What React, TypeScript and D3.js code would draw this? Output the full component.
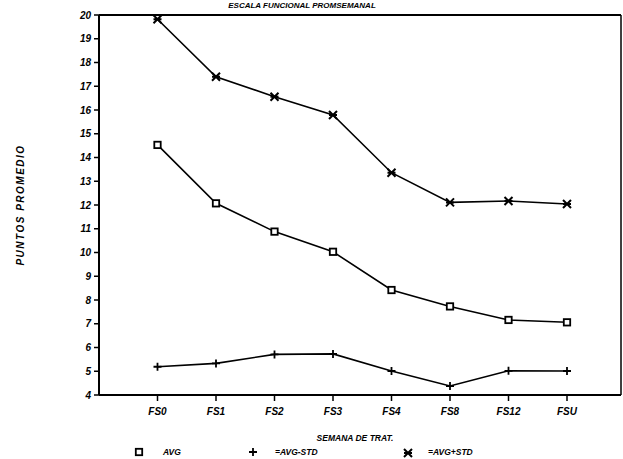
import React from "react";
import * as d3 from "d3";

// Weeks of treatment
const weeks = ["FS0", "FS1", "FS2", "FS3", "FS4", "FS8", "FS12", "FSU"];

// Average score and +/- one standard deviation
const avg = [14.53, 12.07, 10.88, 10.03, 8.42, 7.73, 7.16, 7.06];
const avgMinusStd = [5.19, 5.33, 5.71, 5.73, 5.01, 4.38, 5.02, 5.01];
const avgPlusStd = [19.82, 17.4, 16.56, 15.79, 13.36, 12.11, 12.17, 12.04];

const yTicks = [4, 5, 6, 7, 8, 9, 10, 11, 12, 13, 14, 15, 16, 17, 18, 19, 20];

const W = 623;
const H = 459;
const left = 99;
const right = 621;
const top = 15;
const bottom = 395;

const font = "'Liberation Sans', Arial, sans-serif";

export default function App() {
  const x = d3.scaleLinear().domain([-1, 8]).range([left, left + 9 * 58.5]);
  const y = d3.scaleLinear().domain([4, 20]).range([bottom, top]);

  const line = d3
    .line<number>()
    .x((_, i) => x(i))
    .y((d) => y(d));

  const square = (cx: number, cy: number, k: string) => (
    <rect key={k} x={cx - 3.2} y={cy - 3.2} width={6.4} height={6.4} fill="white" stroke="black" strokeWidth={1.8} />
  );
  const plus = (cx: number, cy: number, k: string) => (
    <path key={k} d={`M${cx - 4},${cy}H${cx + 4}M${cx},${cy - 4}V${cy + 4}`} stroke="black" strokeWidth={1.8} />
  );
  const cross = (cx: number, cy: number, k: string) => (
    <path
      key={k}
      d={`M${cx - 4},${cy - 4}L${cx + 4},${cy + 4}M${cx + 4},${cy - 4}L${cx - 4},${cy + 4}M${cx - 4},${cy}H${cx + 4}`}
      stroke="black"
      strokeWidth={2}
    />
  );

  const series = [
    { values: avg, marker: square },
    { values: avgMinusStd, marker: plus },
    { values: avgPlusStd, marker: cross },
  ];

  const textStyle = { fontFamily: font, fontWeight: 700, fontStyle: "italic" as const };

  return (
    <svg
      width={W}
      height={H}
      style={{ position: "absolute", left: 0, top: 0, background: "white" }}
    >
      {/* title */}
      <text x={302} y={8} textAnchor="middle" fontSize={8} {...textStyle}>
        ESCALA FUNCIONAL PROMSEMANAL
      </text>

      {/* frame */}
      <line x1={left} x2={right} y1={top} y2={top} stroke="black" strokeWidth={2} />
      <line x1={right} x2={right} y1={top} y2={bottom} stroke="black" strokeWidth={1.5} />
      <line x1={left} x2={left} y1={top} y2={bottom} stroke="black" strokeWidth={2} />
      <line x1={left} x2={right} y1={bottom} y2={bottom} stroke="black" strokeWidth={2} />

      {/* y axis */}
      {yTicks.map((t) => (
        <g key={t}>
          <line x1={left - 5} x2={left} y1={y(t)} y2={y(t)} stroke="black" strokeWidth={1.5} />
          <text x={left - 8} y={y(t) + 3.5} textAnchor="end" fontSize={10} {...textStyle}>
            {t}
          </text>
        </g>
      ))}

      {/* x axis */}
      {weeks.map((w, i) => (
        <g key={w}>
          <line x1={x(i)} x2={x(i)} y1={bottom} y2={bottom + 6} stroke="black" strokeWidth={1.5} />
          <text x={x(i)} y={bottom + 20} textAnchor="middle" fontSize={10} {...textStyle}>
            {w}
          </text>
        </g>
      ))}

      {/* axis titles */}
      <text x={355} y={441} textAnchor="middle" fontSize={8.5} {...textStyle}>
        SEMANA DE TRAT.
      </text>
      <text
        transform={`translate(24,205) rotate(-90)`}
        textAnchor="middle"
        fontSize={10}
        letterSpacing={1.5}
        {...textStyle}
      >
        PUNTOS PROMEDIO
      </text>

      {/* series */}
      {series.map((s, si) => (
        <g key={si}>
          <path d={line(s.values) ?? ""} fill="none" stroke="black" strokeWidth={1.6} />
          {s.values.map((v, i) => s.marker(x(i), y(v), `${si}-${i}`))}
        </g>
      ))}

      {/* legend */}
      <g>
        {square(139, 452, "lg0")}
        <text x={163} y={455} fontSize={8.5} {...textStyle}>AVG</text>
        {plus(253, 452, "lg1")}
        <text x={275} y={455} fontSize={8.5} {...textStyle}>=AVG-STD</text>
        {cross(408, 453, "lg2")}
        <text x={428} y={455} fontSize={8.5} {...textStyle}>=AVG+STD</text>
      </g>
    </svg>
  );
}
